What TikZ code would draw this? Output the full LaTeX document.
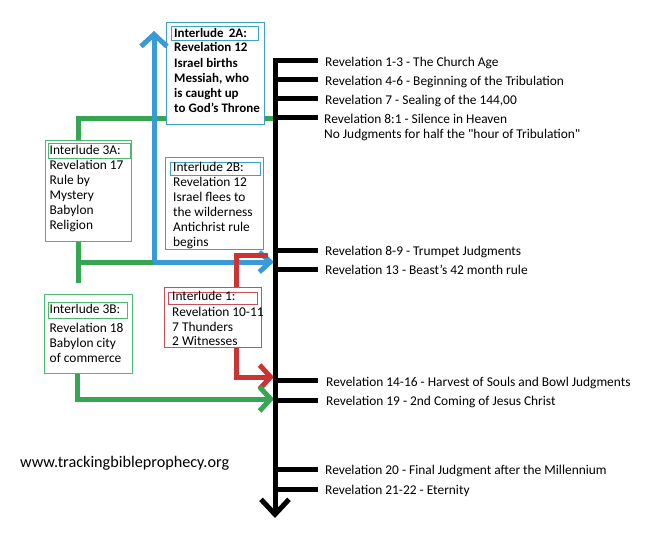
\documentclass[tikz,border=0pt]{standalone}
\usepackage{fontspec}
\setmainfont{Carlito}
\newfontfamily\rawfont{Carlito}
\usetikzlibrary{arrows.meta}
\definecolor{lblue}{HTML}{3A9AD9}
\definecolor{bblue}{HTML}{3FA0C0}
\definecolor{lgreen}{HTML}{36A652}
\definecolor{bgreen}{HTML}{4DB870}
\definecolor{lred}{HTML}{CC3333}
\definecolor{bred}{HTML}{C8505A}
\newcommand{\fs}{\fontsize{13.4}{15}\selectfont}
\tikzset{
  lab/.style={anchor=base west, inner sep=0pt, font=\fs},
  tick/.style={line width=5pt, black},
  outer/.style={draw=#1, line width=1pt, fill=white, anchor=north west, inner sep=0pt},
  ttl/.style={draw=#1, line width=1pt, anchor=north west, inner sep=0pt},
  body/.style={anchor=north west, inner sep=0pt, align=left, font=\fs},
  conn/.style={line width=5pt, #1}
}
\begin{document}
\begin{tikzpicture}[x=1pt,y=-1pt]
\useasboundingbox[fill=white] (0,0) rectangle (660,535);
% main line coordinates
\coordinate (mtop) at (275,58);
\coordinate (mbot) at (275,518);
\coordinate (m118) at (275,118);
\coordinate (m262) at (274,262);
\coordinate (m255) at (268,255);
\coordinate (m377) at (274,377);
\coordinate (m399) at (274,399);
% green upper connector
\coordinate (g1) at (78,118);
\draw[conn=lgreen] (78,141) -- (g1) -- (m118);
% green middle T
\coordinate (gj) at (78,262);
\coordinate (bj) at (154,262);
\draw[conn=lgreen] (78,241) -- (78,283);
\draw[conn=lgreen] (gj) -- (bj);
% boxes
\node[outer=bblue, minimum width=98pt, minimum height=102pt] (b2a) at (166,22) {};
\node[ttl=bblue, minimum width=87pt, minimum height=14pt] (t2a) at (171,26) {};
\node[lab, font=\fontsize{13}{15}\selectfont\bfseries] at (174,37.5) {Interlude\, 2A:};
\node[body, font=\fontsize{13}{15.3}\selectfont\bfseries] (x2a) at (174,42.4) {Revelation 12\\Israel births\\Messiah, who\\is caught up\\to God's Throne};

\node[outer=bgreen, minimum width=86pt, minimum height=101pt] (b3a) at (45,140) {};
\node[ttl=bgreen, minimum width=82pt, minimum height=15pt] (t3a) at (47.5,143) {};
\node[lab] at (49.5,154.5) {Interlude 3A:};
\node[body] (x3a) at (49.5,160) {Revelation 17\\Rule by\\Mystery\\Babylon\\Religion};

\node[outer=bblue, minimum width=98pt, minimum height=92pt] (b2b) at (165,157) {};
\node[ttl=bblue, minimum width=90pt, minimum height=13pt] (t2b) at (170,161.5) {};
\node[lab] at (173,171.5) {Interlude 2B:};
\node[body] (x2b) at (173,177.2) {Revelation 12\\Israel flees to\\the wilderness\\Antichrist rule\\begins};

\node[outer=bred, minimum width=97pt, minimum height=60pt] (b1) at (164,287) {};
\node[ttl=bred, minimum width=89pt, minimum height=12pt] (t1) at (168,291.5) {};
\node[lab] at (172,300.5) {Interlude 1:};
\node[body, font=\fontsize{13.4}{14.6}\selectfont] (x1) at (172,307.2) {Revelation 10-11\\7 Thunders\\2 Witnesses};

\node[outer=bgreen, minimum width=88pt, minimum height=79pt] (b3b) at (44,294) {};
\node[ttl=bgreen, minimum width=79pt, minimum height=16pt] (t3b) at (48,302) {};
\node[lab] at (49.5,313.5) {Interlude 3B:};
\node[body] (x3b) at (49.5,323.2) {Revelation 18\\Babylon city\\of commerce};
% blue connector
\draw[conn=lblue, -{Straight Barb[length=12pt,width=26pt]}] (bj) -- (154,31);
\draw[conn=lblue, -{Straight Barb[length=11pt,width=20pt]}] (bj) -- (m262);
% red connectors
\draw[conn=lred] (b1.north -| 236,0) -- (236,255) -- (m255);
\draw[conn=lred, -{Straight Barb[length=11pt,width=24pt]}] (b1.south -| 236,0) -- (236,377) -- (m377);
% green lower
\draw[conn=lgreen, -{Straight Barb[length=11pt,width=24pt]}] (b3b.south -| 77,0) -- (77,399) -- (m399);
% main timeline
\draw[line width=5pt, -{Straight Barb[length=15pt,width=28pt]}] (mtop) -- (mbot);
\foreach \y in {60.7,79.5,98.5,117.7,250,269.3,380.7,400,469,489}
  \draw[tick] (274,\y) -- (318,\y);
% labels
\node[lab] (r1) at (325,66.5) {Revelation 1-3 - The Church Age};
\node[lab] (r2) at (325,85.3) {Revelation 4-6 - Beginning of the Tribulation};
\node[lab] (r3) at (325,104.3) {Revelation 7 - Sealing of the 144,00};
\node[lab] (r4) at (324,123.3) {Revelation 8:1 - Silence in Heaven};
\node[lab, font=\fs\rawfont] (r4b) at (324,138.3) {No Judgments for half the "hour of Tribulation"};
\node[lab] (r5) at (325,255.3) {Revelation 8-9 - Trumpet Judgments};
\node[lab] (r6) at (325,274.5) {Revelation 13 - Beast's 42 month rule};
\node[lab] (r7) at (326,386) {Revelation 14-16 - Harvest of Souls and Bowl Judgments};
\node[lab] (r8) at (326,405.2) {Revelation 19 - 2nd Coming of Jesus Christ};
\node[lab] (r9) at (325,474) {Revelation 20 - Final Judgment after the Millennium};
\node[lab] (r10) at (325,494) {Revelation 21-22 - Eternity};
\node[lab, font=\fontsize{16.2}{18}\selectfont] (web) at (20,467.5) {www.trackingbibleprophecy.org};
\end{tikzpicture}
\end{document}
